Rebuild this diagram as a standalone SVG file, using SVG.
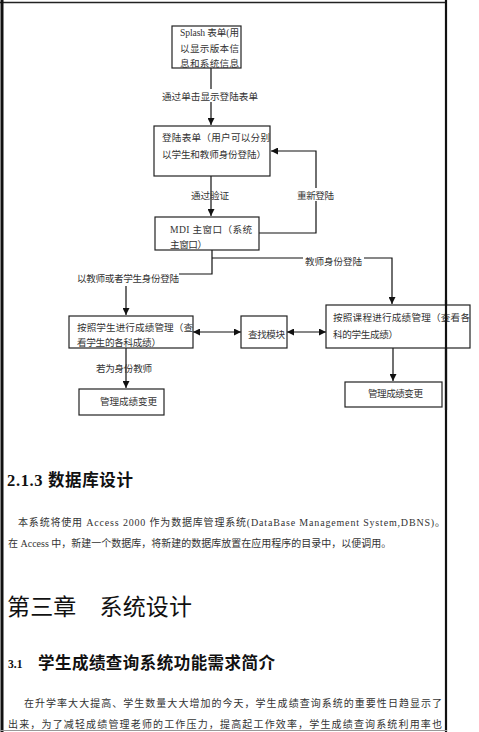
<svg xmlns="http://www.w3.org/2000/svg" width="479" height="732" viewBox="0 0 479 732">
<style>
.box{fill:#fff;stroke:#222;stroke-width:1.2}
.ln{fill:none;stroke:#111;stroke-width:1.2}
.t{font-family:"Liberation Serif","Noto Sans CJK SC",serif;font-size:9.6px;fill:#333}
.p{font-family:"Liberation Serif","Noto Sans CJK SC",serif;font-size:10px;fill:#333}
.h{font-family:"Liberation Serif","Noto Sans CJK SC",sans-serif;font-weight:bold;fill:#111}
.c{font-family:"Noto Sans CJK SC",sans-serif;fill:#111}
.bg{fill:#fff}
</style>
<defs>
<marker id="a" viewBox="0 0 8 8" refX="8" refY="4" markerWidth="7" markerHeight="7" markerUnits="userSpaceOnUse" orient="auto-start-reverse">
<path d="M0,0 L8,4 L0,8 z" fill="#111"/>
</marker>
</defs>
<rect width="479" height="732" fill="#fff"/>
<g id="page">
<line x1="0" y1="2.5" x2="447" y2="2.5" stroke="#222" stroke-width="1.5"/>
<line x1="2" y1="0" x2="2" y2="732" stroke="#111" stroke-width="3"/>
<line x1="446" y1="0" x2="446" y2="732" stroke="#111" stroke-width="2.2"/>
<line x1="0" y1="730.5" x2="447" y2="730.5" stroke="#999" stroke-width="1"/>
</g>
<g id="connectors">
<line class="ln" x1="211" y1="68" x2="211" y2="125" marker-end="url(#a)"/>
<line class="ln" x1="211" y1="176" x2="211" y2="216" marker-end="url(#a)"/>
<polyline class="ln" points="259,233 316,233 316,151 271,151" marker-end="url(#a)"/>
<polyline class="ln" points="212,250 212,274 179,274"/>
<line class="ln" x1="126" y1="286" x2="126" y2="315" marker-end="url(#a)"/>
<polyline class="ln" points="212,258 392,258 392,304" marker-end="url(#a)"/>
<line class="ln" x1="193" y1="332" x2="241" y2="332" marker-start="url(#a)" marker-end="url(#a)"/>
<line class="ln" x1="287" y1="332" x2="326" y2="332" marker-start="url(#a)" marker-end="url(#a)"/>
<line class="ln" x1="126" y1="348" x2="126" y2="388" marker-end="url(#a)"/>
<line class="ln" x1="393" y1="348" x2="393" y2="381" marker-end="url(#a)"/>
<rect class="bg" x="160" y="89" width="100" height="13"/>
<text class="t" x="162" y="100" textLength="96">通过单击显示登陆表单</text>
<text class="t" x="191" y="199" textLength="38">通过验证</text>
<rect class="bg" x="296" y="188" width="39" height="13"/>
<text class="t" x="297" y="199" textLength="37">重新登陆</text>
<rect class="bg" x="303" y="254" width="61" height="12"/>
<text class="t" x="305" y="265" textLength="57">教师身份登陆</text>
<text class="t" x="77" y="282" textLength="102">以教师或者学生身份登陆</text>
<text class="t" x="96" y="372" textLength="56">若为身份教师</text>
</g>
<g id="splash">
<rect class="box" x="172" y="26" width="69" height="42"/>
<text class="t" x="180" y="36" textLength="59">Splash 表单(用</text>
<text class="t" x="180" y="52" textLength="59">以显示版本信</text>
<text class="t" x="180" y="67" textLength="59">息和系统信息</text>
</g>
<g id="login">
<rect class="box" x="154" y="126" width="116" height="50"/>
<text class="t" x="162" y="141" textLength="108">登陆表单（用户可以分别</text>
<text class="t" x="162" y="158" textLength="104">以学生和教师身份登陆）</text>
</g>
<g id="mdi">
<rect class="box" x="155" y="217" width="104" height="33"/>
<text class="t" x="170" y="233" textLength="82">MDI 主窗口（系统</text>
<text class="t" x="170" y="248" textLength="37">主窗口）</text>
</g>
<g id="student">
<rect class="box" x="69" y="316" width="124" height="32"/>
<text class="t" x="77" y="331" textLength="116">按照学生进行成绩管理（查</text>
<text class="t" x="77" y="346" textLength="84">看学生的各科成绩）</text>
</g>
<g id="find">
<rect class="box" x="241" y="316" width="46" height="32"/>
<text class="t" x="248" y="338" textLength="37">查找模块</text>
</g>
<g id="course">
<rect class="box" x="326" y="305" width="144" height="43"/>
<text class="t" x="333" y="321" textLength="137">按照课程进行成绩管理（查看各</text>
<text class="t" x="333" y="338" textLength="65">科的学生成绩）</text>
</g>
<g id="change1">
<rect class="box" x="79" y="389" width="85" height="26"/>
<text class="t" x="100" y="405" textLength="57">管理成绩变更</text>
</g>
<g id="change2">
<rect class="box" x="345" y="382" width="97" height="25"/>
<text class="t" x="368" y="397" textLength="55">管理成绩变更</text>
</g>
<line x1="446" y1="300" x2="446" y2="410" stroke="#111" stroke-width="2.2"/>
<g id="text">
<text class="h" x="7" y="486" font-size="16.5" textLength="126">2.1.3 数据库设计</text>
<text class="p" x="18" y="526" textLength="427">本系统将使用 Access 2000 作为数据库管理系统(DataBase Management System,DBNS)。</text>
<text class="p" x="8" y="547" font-size="9.4">在 Access 中，新建一个数据库，将新建的数据库放置在应用程序的目录中，以便调用。</text>
<text class="c" x="7" y="615" font-size="23" textLength="185">第三章　系统设计</text>
<text class="h" x="8" y="668" font-size="11.5">3.1</text>
<text class="h" x="38" y="669" font-size="16.5" textLength="237">学生成绩查询系统功能需求简介</text>
<text class="p" x="24" y="707" textLength="418">在升学率大大提高、学生数量大大增加的今天，学生成绩查询系统的重要性日趋显示了</text>
<text class="p" x="8" y="728" textLength="434">出来，为了减轻成绩管理老师的工作压力，提高起工作效率，学生成绩查询系统利用率也</text>
</g>
</svg>
